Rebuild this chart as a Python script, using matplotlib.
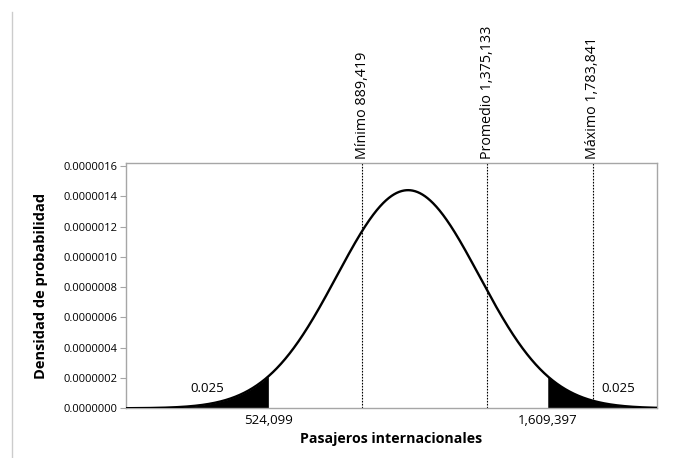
import matplotlib.pyplot as plt
import numpy as np
from matplotlib.lines import Line2D

##############################################################################
# data

lower_cut = 524099        # 2.5% lower tail
upper_cut = 1609397       # 2.5% upper tail
tail_prob = 0.025
ref_names = ['Mínimo', 'Promedio', 'Máximo']
ref_values = [889419, 1375133, 1783841]
ytick_values = [0.0, 2e-7, 4e-7, 6e-7, 8e-7, 1.0e-6, 1.2e-6, 1.4e-6, 1.6e-6]

# normal distribution implied by the two 2.5% quantiles
z = 1.959964
mu = (lower_cut + upper_cut) / 2
sigma = (upper_cut - lower_cut) / (2 * z)

def pdf(x):
    return np.exp(-0.5 * ((x - mu) / sigma) ** 2) / (sigma * np.sqrt(2 * np.pi))

xmin, xmax = -30000, 2035000

##############################################################################
# plot

plt.rcParams['font.family'] = ['Open Sans', 'DejaVu Sans']
spine_col = '#a6a6a6'

fig = plt.figure(figsize=(6.78, 4.58), dpi=100)
ax = fig.add_axes([0.1854, 0.1085, 0.7841, 0.5355])

x = np.linspace(xmin, xmax, 1500)
ax.plot(x, pdf(x), color='black', lw=1.7, zorder=3)

xl = np.linspace(xmin, lower_cut, 300)
ax.fill_between(xl, 0, pdf(xl), color='black', lw=0, zorder=2)
xr = np.linspace(upper_cut, xmax, 300)
ax.fill_between(xr, 0, pdf(xr), color='black', lw=0, zorder=2)

ax.text(285000, 1.3e-7, '%.3f' % tail_prob, ha='center', va='center', fontsize=9.5)
ax.text(1882000, 1.3e-7, '%.3f' % tail_prob, ha='center', va='center', fontsize=9.5)

ymax = 1.62e-6
for name, v in zip(ref_names, ref_values):
    ax.plot([v, v], [0, ymax], color='black', lw=0.8, ls=(0, (1.5, 1.2)), zorder=1)
    ax.text(v, ymax * 1.015, '%s %s' % (name, format(v, ',')), rotation=90,
            ha='center', va='bottom', fontsize=10.3)

ax.set_xlim(xmin, xmax)
ax.set_ylim(0, ymax)

ax.set_xticks([lower_cut, upper_cut])
ax.set_xticklabels([format(lower_cut, ','), format(upper_cut, ',')], fontsize=9.5)
ax.tick_params(axis='x', length=0, pad=4)

ax.set_yticks(ytick_values)
ax.set_yticklabels(['%.7f' % v for v in ytick_values], fontsize=8)
ax.tick_params(axis='y', length=4, color=spine_col, pad=2)

for s in ax.spines.values():
    s.set_color(spine_col)
    s.set_linewidth(1.0)

ax.set_xlabel('Pasajeros internacionales', fontsize=10.2, fontweight='bold', labelpad=4)
ax.set_ylabel('Densidad de probabilidad', fontsize=10.5, fontweight='bold', labelpad=11)

# light border on the left of the picture
fig.add_artist(Line2D([12 / 678, 12 / 678], [0, 1 - 12 / 458], color='#cccccc', lw=1.0))

fig.savefig('out.png', dpi=100)
